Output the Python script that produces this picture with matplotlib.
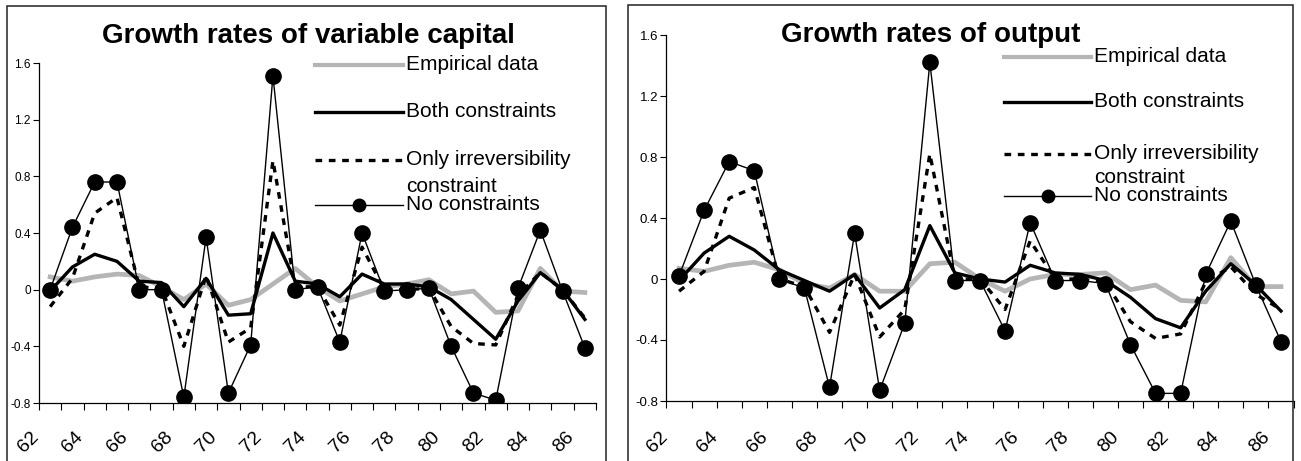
import numpy as np
import matplotlib
matplotlib.use('Agg')
import matplotlib.pyplot as plt
from matplotlib.lines import Line2D
from matplotlib.patches import Rectangle
from matplotlib.transforms import ScaledTranslation

plt.rcParams['font.family'] = ['Liberation Sans', 'DejaVu Sans']

years = [str(y) for y in range(62, 87)]
year_labels = years[::2]
yticks = [-0.8, -0.4, 0.0, 0.4, 0.8, 1.2, 1.6]
ytick_labels = ['-0.8', '-0.4', '0', '0.4', '0.8', '1.2', '1.6']

# growth rates of variable capital
emp_k = [0.09, 0.06, 0.09, 0.11, 0.10, 0.02, -0.07, 0.04, -0.11, -0.07, 0.04, 0.15, 0.02,
         -0.08, -0.03, 0.02, 0.04, 0.07, -0.03, -0.01, -0.16, -0.15, 0.15, -0.01, -0.02]
both_k = [-0.01, 0.16, 0.25, 0.20, 0.06, 0.05, -0.12, 0.08, -0.18, -0.17, 0.40, 0.06, 0.04,
          -0.05, 0.11, 0.04, 0.04, 0.02, -0.07, -0.21, -0.35, -0.08, 0.12, 0.00, -0.21]
only_k = [-0.12, 0.08, 0.54, 0.65, 0.02, 0.01, -0.40, 0.10, -0.37, -0.27, 0.91, 0.02, 0.02,
          -0.25, 0.30, 0.00, 0.00, 0.01, -0.26, -0.38, -0.39, -0.04, 0.12, 0.00, -0.20]
nocon_k = [0.00, 0.44, 0.76, 0.76, 0.00, 0.00, -0.76, 0.37, -0.73, -0.39, 1.51, 0.00, 0.02,
           -0.37, 0.40, -0.01, 0.00, 0.01, -0.40, -0.73, -0.78, 0.01, 0.42, -0.01, -0.41]

# growth rates of output
emp_y = [0.07, 0.05, 0.09, 0.11, 0.06, -0.03, -0.06, 0.03, -0.08, -0.08, 0.10, 0.11, 0.00,
         -0.08, 0.00, 0.03, 0.03, 0.04, -0.07, -0.04, -0.14, -0.15, 0.14, -0.05, -0.05]
both_y = [-0.01, 0.17, 0.28, 0.19, 0.06, -0.01, -0.08, 0.03, -0.19, -0.07, 0.35, 0.04, 0.00,
          -0.02, 0.09, 0.04, 0.03, -0.01, -0.12, -0.26, -0.32, -0.08, 0.10, -0.04, -0.21]
only_y = [-0.08, 0.05, 0.53, 0.60, 0.00, -0.05, -0.35, 0.03, -0.38, -0.20, 0.82, 0.00, 0.00,
          -0.20, 0.25, 0.00, 0.00, -0.02, -0.28, -0.39, -0.36, -0.02, 0.08, -0.10, -0.20]
nocon_y = [0.02, 0.45, 0.77, 0.71, 0.00, -0.06, -0.71, 0.30, -0.73, -0.29, 1.42, -0.01, -0.01,
           -0.34, 0.37, -0.01, -0.01, -0.03, -0.43, -0.75, -0.75, 0.03, 0.38, -0.04, -0.41]

legend_labels = ['Empirical data', 'Both constraints', 'Only irreversibility\nconstraint',
                 'No constraints']

W, H = 1301, 461
GRAY = '#b5b5b5'


def fx(x):
    return x / W


def fy(y):
    return 1 - y / H


def draw_panel(fig, ax, emp, both, only, nocon, ysize, pad):
    x = np.arange(len(years))
    ax.plot(x, emp, color=GRAY, lw=3.4, zorder=2)
    ax.plot(x, both, color='black', lw=2.4, zorder=3)
    ax.plot(x, only, color='black', lw=2.4, dashes=(2, 2), zorder=4)
    ax.plot(x, nocon, color='black', lw=1.0, marker='o', markersize=11, zorder=5)

    ax.set_xlim(-0.5, len(years) - 0.5)
    ax.set_ylim(-0.8, 1.6)
    ax.set_yticks(yticks)
    ax.set_yticklabels(ytick_labels, fontsize=ysize)
    ax.tick_params(axis='y', direction='out', length=4, width=0.8, pad=2)

    # ticks between categories, labels on every other category
    ax.set_xticks(np.arange(-0.5, len(years)))
    ax.set_xticklabels([])
    ax.set_xticks(x[::2], minor=True)
    ax.set_xticklabels(year_labels, minor=True, fontsize=14, rotation=45,
                       ha='right', va='top')
    ax.tick_params(axis='x', which='major', direction='out', length=5, width=0.8)
    ax.tick_params(axis='x', which='minor', length=0, pad=pad)
    shift = ScaledTranslation(-8 / 100, 0, fig.dpi_scale_trans)
    for lab in ax.get_xticklabels(minor=True):
        lab.set_transform(lab.get_transform() + shift)

    for s in ['top', 'right']:
        ax.spines[s].set_visible(False)
    for s in ['left', 'bottom']:
        ax.spines[s].set_linewidth(0.9)
    ax.patch.set_alpha(0)


def draw_legend(fig, x0, x1, rows, line_gap):
    # rows: y position of each sample line, top to bottom
    styles = [dict(color=GRAY, lw=3.0),
              dict(color='black', lw=2.4),
              dict(color='black', lw=2.4, dashes=(2, 2)),
              dict(color='black', lw=1.0, marker='o', markersize=9, markevery=[1])]
    for y, st, lab in zip(rows, styles, legend_labels):
        xs = [fx(x0), fx((x0 + x1) / 2), fx(x1)]
        fig.add_artist(Line2D(xs, [fy(y)] * 3, transform=fig.transFigure, **st))
        for i, part in enumerate(lab.split('\n')):
            fig.text(fx(x1 + 3), fy(y + 5 + i * line_gap), part, fontsize=15,
                     ha='left', va='baseline')


def main():
    fig = plt.figure(figsize=(W / 100, H / 100), dpi=100)

    # chart frames
    fig.add_artist(Rectangle((fx(7), -0.02), fx(606) - fx(7), fy(6) + 0.02,
                             transform=fig.transFigure, fill=False, lw=1.1,
                             edgecolor='#222222'))
    fig.add_artist(Rectangle((fx(628), -0.02), fx(1293) - fx(628), fy(5) + 0.02,
                             transform=fig.transFigure, fill=False, lw=1.1,
                             edgecolor='#222222'))

    ax1 = fig.add_axes([fx(39), fy(403), fx(596) - fx(39), fy(63) - fy(403)])
    draw_panel(fig, ax1, emp_k, both_k, only_k, nocon_k, 8.5, 18)
    ax2 = fig.add_axes([fx(666.5), fy(401), fx(1293.5) - fx(666.5), fy(35) - fy(401)])
    draw_panel(fig, ax2, emp_y, both_y, only_y, nocon_y, 9.5, 19.5)

    fig.text(fx(308.5), fy(43), 'Growth rates of variable capital', fontsize=20,
             fontweight='bold', ha='center', va='baseline')
    fig.text(fx(931), fy(42), 'Growth rates of output', fontsize=20,
             fontweight='bold', ha='center', va='baseline')

    draw_legend(fig, 315, 403, [65, 112, 160, 205], 27)
    draw_legend(fig, 1004, 1091, [57, 102, 154, 196], 24)

    fig.savefig('out.png', dpi=100)


if __name__ == '__main__':
    main()
